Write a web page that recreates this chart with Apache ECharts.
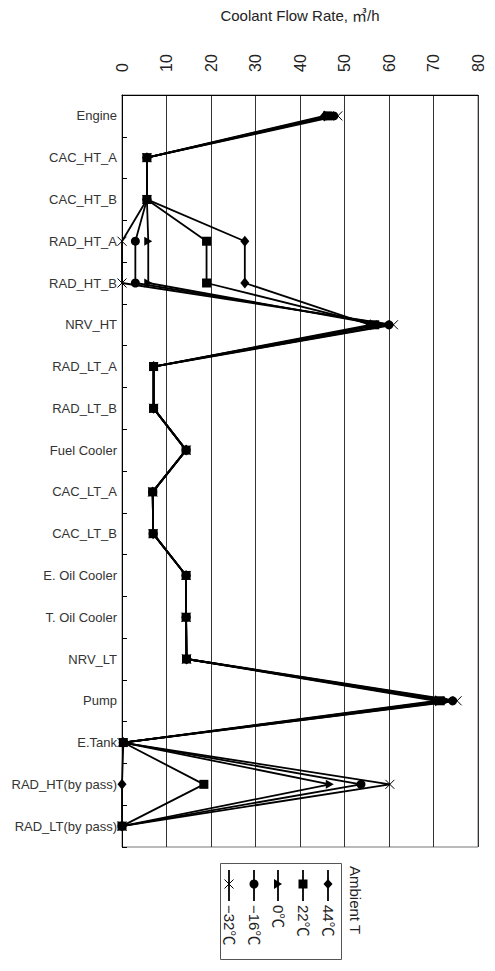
<!DOCTYPE html>
<html>
<head>
<meta charset="utf-8">
<script src="https://cdn.jsdelivr.net/npm/echarts@6/dist/echarts.min.js"></script>
<style>
html,body{margin:0;padding:0;background:#fff;}
#c{width:495px;height:971px;}
</style>
</head>
<body>
<div id="c"></div>
<script>
// ---- data ----
var categories = ['Engine','CAC_HT_A','CAC_HT_B','RAD_HT_A','RAD_HT_B','NRV_HT','RAD_LT_A','RAD_LT_B','Fuel Cooler','CAC_LT_A','CAC_LT_B','E. Oil Cooler','T. Oil Cooler','NRV_LT','Pump','E.Tank','RAD_HT(by pass)','RAD_LT(by pass)'];
var xTicks = [0,10,20,30,40,50,60,70,80];
var seriesNames = ['44℃','22℃','0℃','−16℃','−32℃'];
var t44  = [45.5, 5.6, 5.6, 27.6, 27.6, 55.8, 7.1, 7.1, 14.4, 6.9, 7.0, 14.4, 14.4, 14.5, 70.5, 0.3, 0.0, 0.0];
var t22  = [46.2, 5.6, 5.6, 19.0, 19.0, 56.8, 7.1, 7.1, 14.4, 6.9, 7.0, 14.4, 14.4, 14.5, 71.5, 0.3, 18.4, 0.0];
var t0   = [46.8, 5.6, 5.6, 5.9, 5.9, 58.0, 7.1, 7.1, 14.4, 6.9, 7.0, 14.4, 14.4, 14.5, 73.0, 0.3, 46.7, 0.0];
var tm16 = [47.6, 5.6, 5.6, 3.0, 3.0, 60.0, 7.1, 7.1, 14.4, 6.9, 7.0, 14.4, 14.4, 14.5, 74.3, 0.3, 53.7, 0.0];
var tm32 = [48.5, 5.6, 5.6, 0.0, 0.0, 61.0, 7.1, 7.1, 14.4, 6.9, 7.0, 14.4, 14.4, 14.5, 75.3, 0.0, 60.2, 0.0];
var legendTitle = 'Ambient T';
var axisTitle = 'Coolant Flow Rate, ㎥/h';

// ---- chart ----
var FONT = '"Liberation Sans", "Noto Sans CJK KR", sans-serif';
var chart = echarts.init(document.getElementById('c'), null, {renderer:'svg'});
var triPath = 'path://M0,0L10,5L0,10Z';
var xPath = 'path://M0,0L10,10M10,0L0,10';
var symDefs = [
  {symbol:'diamond', size:[9,11]},
  {symbol:'rect', size:9},
  {symbol:triPath, size:[8,9]},
  {symbol:'circle', size:9},
  {symbol:xPath, size:9, hollow:true}
];
var dataSets = [t44, t22, t0, tm16, tm32];

var series = dataSets.map(function(d, i){
  var s = symDefs[i];
  return {
    name: seriesNames[i],
    type: 'line',
    data: d,
    symbol: s.symbol,
    symbolSize: s.size,
    showAllSymbol: true,
    animation: false,
    lineStyle: {color:'#000', width:1.8},
    itemStyle: s.hollow ? {color:'rgba(0,0,0,0)', borderColor:'#000', borderWidth:1} : {color:'#000', borderWidth:0},
    z: 2 + i
  };
});

// legend drawn with graphics (rotated, as in reference)
var legendX = [328, 303, 278, 254, 229];
var graphics = [
  {type:'rect', shape:{x:220.5, y:863.5, width:121, height:96}, style:{fill:'none', stroke:'#555', lineWidth:1}, silent:true}
];
legendX.forEach(function(x, i){
  graphics.push({type:'line', shape:{x1:x, y1:870, x2:x, y2:901}, style:{stroke:'#000', lineWidth:1.8}});
  var my = 884;
  if (i === 0) graphics.push({type:'polygon', shape:{points:[[x,my-5],[x+4.5,my],[x,my+5],[x-4.5,my]]}, style:{fill:'#000'}});
  if (i === 1) graphics.push({type:'rect', shape:{x:x-4.5, y:my-4.5, width:9, height:9}, style:{fill:'#000'}});
  if (i === 2) graphics.push({type:'polygon', shape:{points:[[x-4,my-5],[x+4,my],[x-4,my+5]]}, style:{fill:'#000'}});
  if (i === 3) graphics.push({type:'circle', shape:{cx:x, cy:my, r:4.5}, style:{fill:'#000'}});
  if (i === 4) {
    graphics.push({type:'line', shape:{x1:x-4.5, y1:my-4.5, x2:x+4.5, y2:my+4.5}, style:{stroke:'#000', lineWidth:1}});
    graphics.push({type:'line', shape:{x1:x+4.5, y1:my-4.5, x2:x-4.5, y2:my+4.5}, style:{stroke:'#000', lineWidth:1}});
  }
  graphics.push({type:'text', x:x, y:905, rotation:-Math.PI/2,
    style:{text:seriesNames[i], x:0, y:0, fill:'#222', font:'15px ' + FONT, textAlign:'left', textVerticalAlign:'middle'}});
});
graphics.push({type:'text', x:355, y:866, rotation:-Math.PI/2,
  style:{text:legendTitle, x:0, y:0, fill:'#222', font:'15px ' + FONT, textAlign:'left', textVerticalAlign:'middle'}});

chart.setOption({
  animation: false,
  backgroundColor: '#fff',
  grid: {left:122, right:17, top:95, bottom:124, show:true, borderColor:'#777', borderWidth:1},
  xAxis: {
    type: 'value', position: 'top', min: xTicks[0], max: xTicks[xTicks.length-1], interval: 10,
    name: axisTitle, nameLocation: 'middle', nameGap: 72,
    nameTextStyle: {fontFamily: FONT, fontSize: 15, color: '#222'},
    axisLine: {show:true, lineStyle:{color:'#000', width:1}},
    axisTick: {show:false},
    axisLabel: {rotate:-90, margin:23, fontFamily: FONT, fontSize: 16, color:'#222'},
    splitLine: {show:true, lineStyle:{color:'#333', width:1}}
  },
  yAxis: {
    type: 'category', data: categories, inverse: true, boundaryGap: true,
    axisLine: {show:true, lineStyle:{color:'#000', width:1}},
    axisTick: {show:true, inside:true, length:5, lineStyle:{color:'#000'}},
    axisLabel: {margin:5, fontFamily: FONT, fontSize: 13, color:'#333', interval:0},
    splitLine: {show:false}
  },
  series: series,
  graphic: graphics
});
</script>
</body>
</html>
